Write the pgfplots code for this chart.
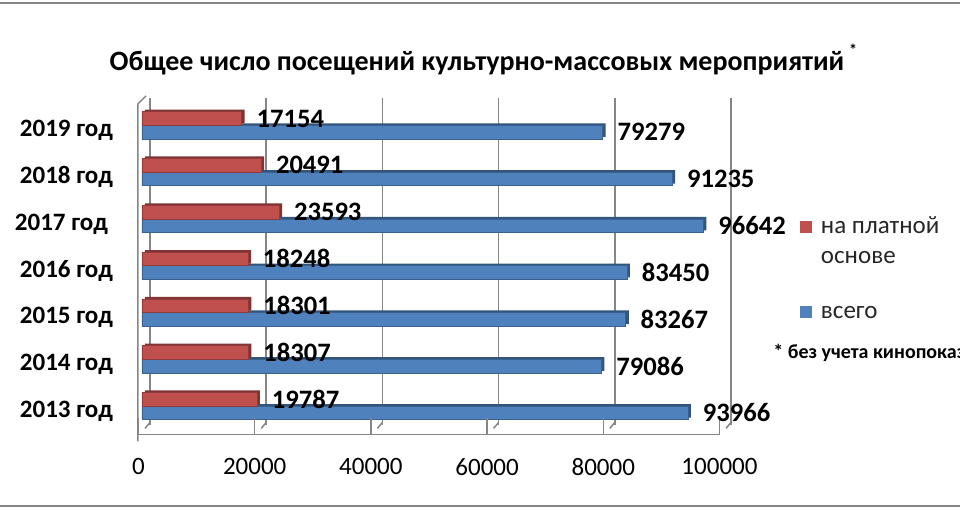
\documentclass[border=0pt]{standalone}
\usepackage{pgfplots}
\pgfplotsset{compat=1.18}
\usepackage{fontspec}
\setmainfont{Carlito}
\definecolor{cred}{HTML}{C0504D}
\definecolor{cblue}{HTML}{4F81BD}
\definecolor{gridc}{HTML}{868686}
\begin{document}
\begin{tikzpicture}
\path[use as bounding box] (0pt,0pt) rectangle (480pt,255pt);
\draw[gridc, line width=1pt] (0pt,253.5pt) -- (480pt,253.5pt);
\draw[gridc, line width=1pt] (0pt,2pt) -- (480pt,2pt);
\node[font=\bfseries\fontsize{14}{16}\selectfont] at (238.5pt,223.5pt) {Общее число посещений культурно-массовых мероприятий};
\node[font=\bfseries\fontsize{8}{9}\selectfont] at (426.5pt,230pt) {*};
\node[font=\bfseries\fontsize{10}{11}\selectfont, anchor=west, inner sep=0pt] at (386.5pt,78.5pt) {* без учета кинопоказов};
\begin{scope}[shift={(71pt,40.3pt)}]
\begin{axis}[
  anchor=south west,
  scale only axis, width=290.5pt, height=163.75pt,
  xbar, bar width=6.8pt,
  xmin=0, xmax=100000,
  ymin=-0.5, ymax=6.5,
  ytick={0,...,6},
  yticklabels={2013 год,2014 год,2015 год,2016 год,2017 год\kern2.5pt,2018 год,2019 год},
  yticklabel style={font=\bfseries\fontsize{12.5}{14}\selectfont, xshift=-11pt, yshift=-2.5pt},
  xtick={0,20000,...,100000},
  scaled x ticks=false,
  xticklabel={\pgfmathprintnumber[assume math mode=true,fixed,precision=0,1000 sep={}]{\tick}},
  xticklabel style={font=\fontsize{12.5}{14}\selectfont, yshift=-11pt, xshift=-1.75pt},
  axis line style={draw=none},
  major tick length=0pt,
  xmajorgrids,
  major grid style={gridc, line width=0.75pt, xshift=4pt, yshift=2pt},
  clip=false,
  point meta=x,
  legend cell align=left,
  legend style={at={(1.1325,0.6547)}, anchor=north west, draw=none, fill=none,
    inner sep=0pt, outer sep=0pt,
    font=\fontsize{12.5}{15}\selectfont, text=black!85, row sep=3pt, column sep=4.5pt,
    nodes={inner sep=0pt, text height=9pt, text depth=3pt}},
  legend image code/.code={\path[#1, draw=none] (0pt,-3pt) rectangle (6pt,3pt);},
  lab/.style={nodes near coords={\pgfmathprintnumber[assume math mode=true,fixed,precision=0,1000 sep={}]{\pgfplotspointmeta}},
    nodes near coords style={font=\bfseries\fontsize{13.3}{14}\selectfont, anchor=west, xshift=4pt, text=black}},
]
% 3D depth of the bars (same data, shifted)
\addplot[forget plot, fill=cblue!65!black, draw=none, bar shift=-3.4pt, xshift=1.5pt, yshift=1pt] coordinates {
 (93966,0) (79086,1) (83267,2) (83450,3) (96642,4) (91235,5) (79279,6)};
\addplot[forget plot, fill=cblue, draw=cblue!75!black, line width=0.3pt, bar shift=-3.4pt, lab] coordinates {
 (93966,0) (79086,1) (83267,2) (83450,3) (96642,4) (91235,5) (79279,6)};
\addplot[forget plot, fill=cred!65!black, draw=none, bar shift=3.4pt, xshift=1.5pt, yshift=1pt] coordinates {
 (19787,0) (18307,1) (18301,2) (18248,3) (23593,4) (20491,5) (17154,6)};
\addplot[forget plot, fill=cred, draw=cred!75!black, line width=0.3pt, bar shift=3.4pt, lab] coordinates {
 (19787,0) (18307,1) (18301,2) (18248,3) (23593,4) (20491,5) (17154,6)};
\addlegendimage{fill=cred, draw=none}
\addlegendentry{на платной}
\addlegendimage{empty legend}
\addlegendentry{основе}
\addlegendimage{fill=cblue, draw=none, yshift=-18.5pt}
\addlegendentry[yshift=-18.5pt]{всего}
% 3D frame: floor and left wall
\draw[gridc, line width=0.75pt] ([shift={(-2pt,-2.5pt)}]axis cs:0,-0.5) -- ([shift={(-1.75pt,-2.5pt)}]axis cs:100000,-0.5);
\pgfplotsinvokeforeach{0,20000,40000,60000,80000,100000}{
  \draw[gridc, line width=0.75pt] ([shift={(-1.75pt,-2.5pt)}]axis cs:#1,-0.5) -- ++(0,-3.5pt);
  \draw[gridc, line width=0.75pt] ([shift={(4pt,3.5pt)}]axis cs:#1,-0.5) -- ([shift={(1.5pt,0.5pt)}]axis cs:#1,-0.5);
}
\draw[gridc, line width=0.75pt] ([shift={(-2pt,-6pt)}]axis cs:0,-0.5) -- ([shift={(-2pt,-1pt)}]axis cs:0,6.5) -- ([shift={(2pt,3pt)}]axis cs:0,6.5);
\end{axis}
\end{scope}
\end{tikzpicture}
\end{document}
